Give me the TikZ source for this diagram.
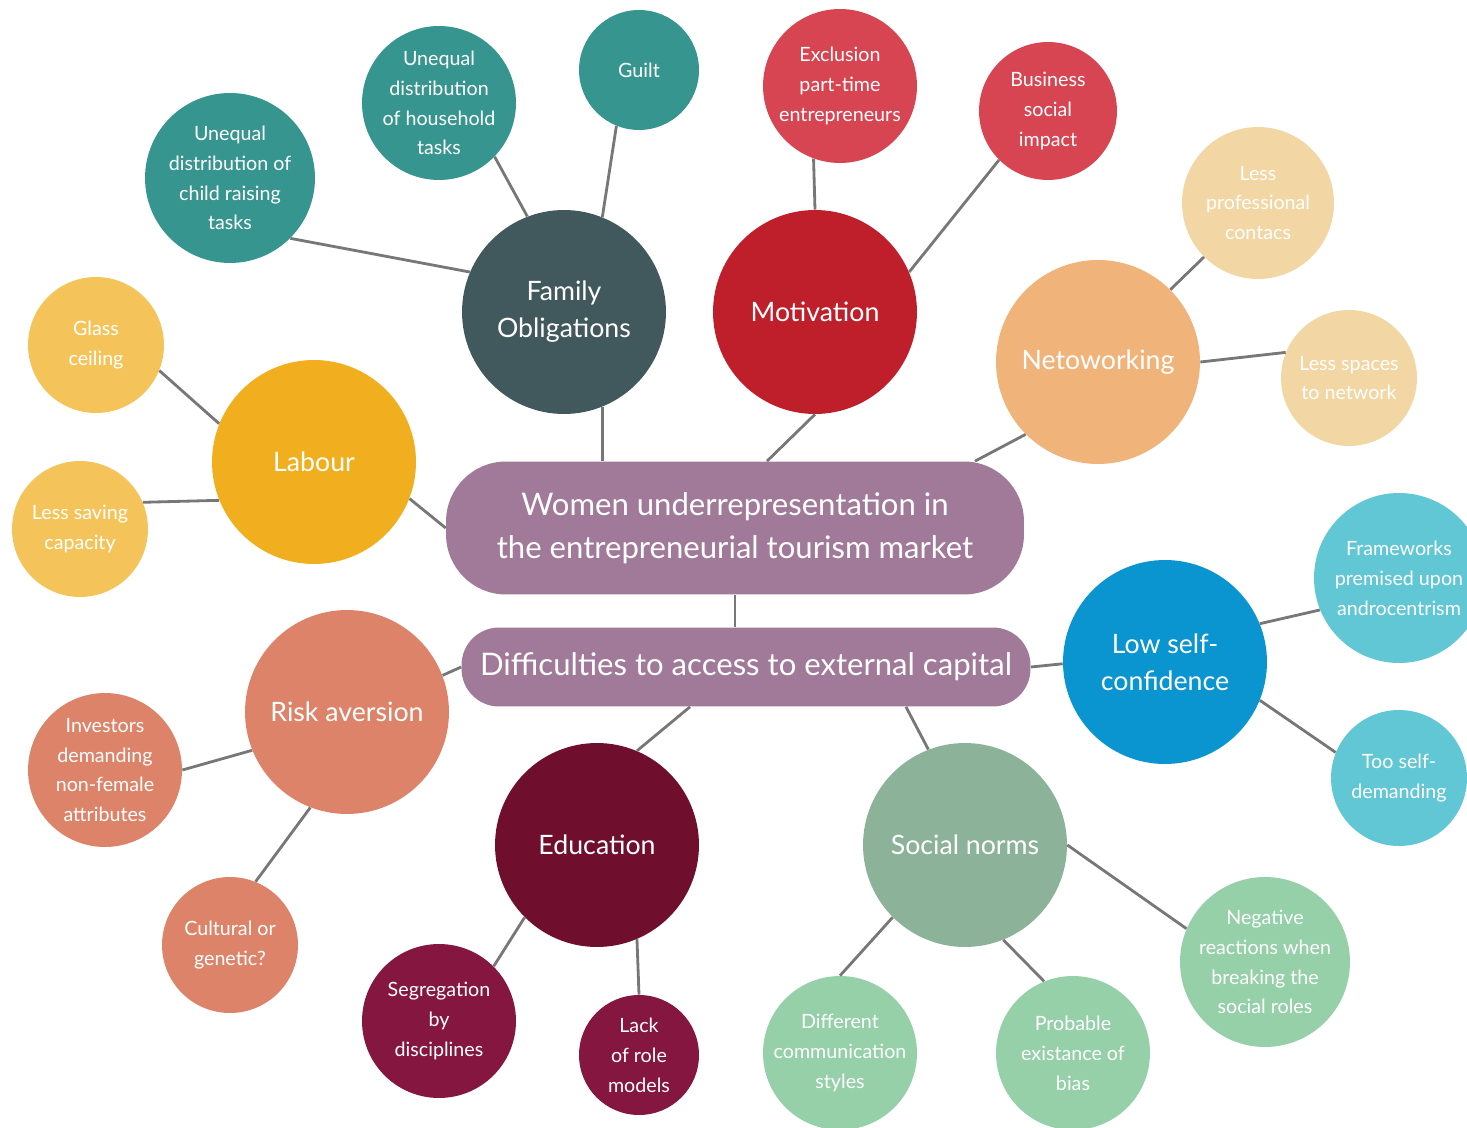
\documentclass[tikz,border=0pt]{standalone}
\usepackage{fontspec}
\setmainfont{Lato}
\usetikzlibrary{calc}
\definecolor{plum}{HTML}{A07A98}
\definecolor{famdark}{HTML}{41595D}
\definecolor{famleaf}{HTML}{37958F}
\definecolor{motdark}{HTML}{BE1F2A}
\definecolor{motleaf}{HTML}{D84552}
\definecolor{netdark}{HTML}{F0B47B}
\definecolor{netleaf}{HTML}{F2D6A3}
\definecolor{labdark}{HTML}{F1AF1F}
\definecolor{lableaf}{HTML}{F4C45B}
\definecolor{confdark}{HTML}{0A94D0}
\definecolor{confleaf}{HTML}{62C7D4}
\definecolor{riskc}{HTML}{DD836A}
\definecolor{edudark}{HTML}{700E2D}
\definecolor{eduleaf}{HTML}{84163F}
\definecolor{normdark}{HTML}{8CB39A}
\definecolor{normleaf}{HTML}{95D0A9}
\definecolor{wire}{HTML}{777777}

\begin{document}
\begin{tikzpicture}[x=0.02cm,y=-0.02cm,
 hub/.style={circle,inner sep=0pt,minimum size=4.08cm,text=white,align=center,font=\fontsize{15.2}{21}\selectfont},
 leaf/.style={circle,inner sep=0pt,text=white,align=center,font=\fontsize{11.2}{17}\selectfont},
 banner/.style={fill=plum,text=white,align=center,inner sep=0pt},
 link/.style={draw=wire,line width=1.6pt}]
\useasboundingbox (0,0) rectangle (1467,1128);
% the two banners in the middle
\node[banner,rounded corners=1.2cm,minimum width=11.56cm,minimum height=2.66cm,font=\fontsize{17.7}{24.5}\selectfont] (main) at (735,528) {Women underrepresentation in\\the entrepreneurial tourism market};
\node[banner,rounded corners=0.75cm,minimum width=11.38cm,minimum height=1.58cm,font=\fontsize{17.7}{24}\selectfont] (capital) at (746,667) {Difficulties to access to external capital};
% hubs
\node[hub,fill=famdark] (family) at (564,312) {Family\\Obligations};
\node[hub,fill=motdark] (motiv) at (815,312) {Motivation};
\node[hub,fill=netdark] (network) at (1098,362) {Netoworking};
\node[hub,fill=labdark] (labour) at (314,462) {Labour};
\node[hub,fill=riskc] (risk) at (347,712) {Risk aversion};
\node[hub,fill=edudark] (educ) at (597,845) {Education};
\node[hub,fill=normdark] (norms) at (965,845) {Social norms};
\node[hub,fill=confdark] (conf) at (1165,662) {Low self-\\confidence};
% family leaves
\node[leaf,fill=famleaf,minimum size=3.4cm] (child) at (230,178) {Unequal\\distribution of\\child raising\\tasks};
\node[leaf,fill=famleaf,minimum size=3.08cm] (house) at (439,103) {Unequal\\distribution\\of household\\tasks};
\node[leaf,fill=famleaf,minimum size=2.4cm] (guilt) at (639,70) {Guilt};
% motivation leaves
\node[leaf,fill=motleaf,minimum size=3.08cm] (excl) at (840,86) {Exclusion\\part-time\\entrepreneurs};
\node[leaf,fill=motleaf,minimum size=2.76cm] (biz) at (1048,111) {Business\\social\\impact};
% networking leaves
\node[leaf,fill=netleaf,minimum size=3.04cm] (contacts) at (1258,203) {Less\\professional\\contacs};
\node[leaf,fill=netleaf,minimum size=2.72cm] (spaces) at (1349,378) {Less spaces\\to network};
% labour leaves
\node[leaf,fill=lableaf,minimum size=2.72cm] (glass) at (96,345) {Glass\\ceiling};
\node[leaf,fill=lableaf,minimum size=2.72cm] (saving) at (80,529) {Less saving\\capacity};
% confidence leaves
\node[leaf,fill=confleaf,minimum size=3.4cm] (frame) at (1399,578) {Frameworks\\premised upon\\androcentrism};
\node[leaf,fill=confleaf,minimum size=2.72cm] (selfdem) at (1399,778) {Too self-\\demanding};
% risk leaves
\node[leaf,fill=riskc,minimum size=3.08cm] (invest) at (105,770) {Investors\\demanding\\non-female\\attributes};
\node[leaf,fill=riskc,minimum size=2.72cm] (cultural) at (230,945) {Cultural or\\genetic?};
% education leaves
\node[leaf,fill=eduleaf,minimum size=3.08cm] (segreg) at (439,1021) {Segregation\\by\\disciplines};
\node[leaf,fill=eduleaf,minimum size=2.4cm] (rolemod) at (639,1055) {Lack\\of role\\models};
% social norms leaves
\node[leaf,fill=normleaf,minimum size=3.08cm] (commun) at (840,1053) {Different\\communication\\styles};
\node[leaf,fill=normleaf,minimum size=3.08cm] (bias) at (1073,1053) {Probable\\existance of\\bias};
\node[leaf,fill=normleaf,minimum size=3.4cm] (reaction) at (1265,962) {Negative\\reactions when\\breaking the\\social roles};
% connectors
\draw[link] (child.-45) -- (family.157);
\draw[link] (house.-44) -- (family.111);
\draw[link] (guilt.-112) -- (family.68);
\draw[link] (family.-68) -- (family.-68 |- main.north);
\draw[link] (excl.-110) -- (motiv.90);
\draw[link] (biz.-135) -- (motiv.23);
\draw[link] (motiv.-90) -- ([xshift=0.64cm]main.north);
\draw[link] (contacts.-135) -- (network.45);
\draw[link] (spaces.158) -- (network.0);
\draw[link] (network.-135) -- ([xshift=4.8cm]main.north);
\draw[link] (glass.-22) -- (labour.158);
\draw[link] (saving.23) -- (labour.-158);
\draw[link] (labour.-21) -- (main.west);
\draw[link] (main.south) -- (main.south |- capital.north);
\draw[link] (capital.west) -- (risk.21);
\draw[link] (risk.-158) -- (invest.0);
\draw[link] (risk.-111) -- (cultural.68);
\draw[link] ([xshift=-1.12cm]capital.south) -- (educ.67);
\draw[link] (educ.-135) -- (segreg.45);
\draw[link] (educ.-67) -- (rolemod.90);
\draw[link] ([xshift=3.2cm]capital.south) -- (norms.111);
\draw[link] (norms.-135) -- (commun.90);
\draw[link] (norms.-68) -- (bias.112);
\draw[link] (norms.0) -- (reaction.157);
\draw[link] (capital.east) -- (conf.181);
\draw[link] (conf.22) -- (frame.-158);
\draw[link] (conf.-22) -- (selfdem.158);
\end{tikzpicture}
\end{document}
